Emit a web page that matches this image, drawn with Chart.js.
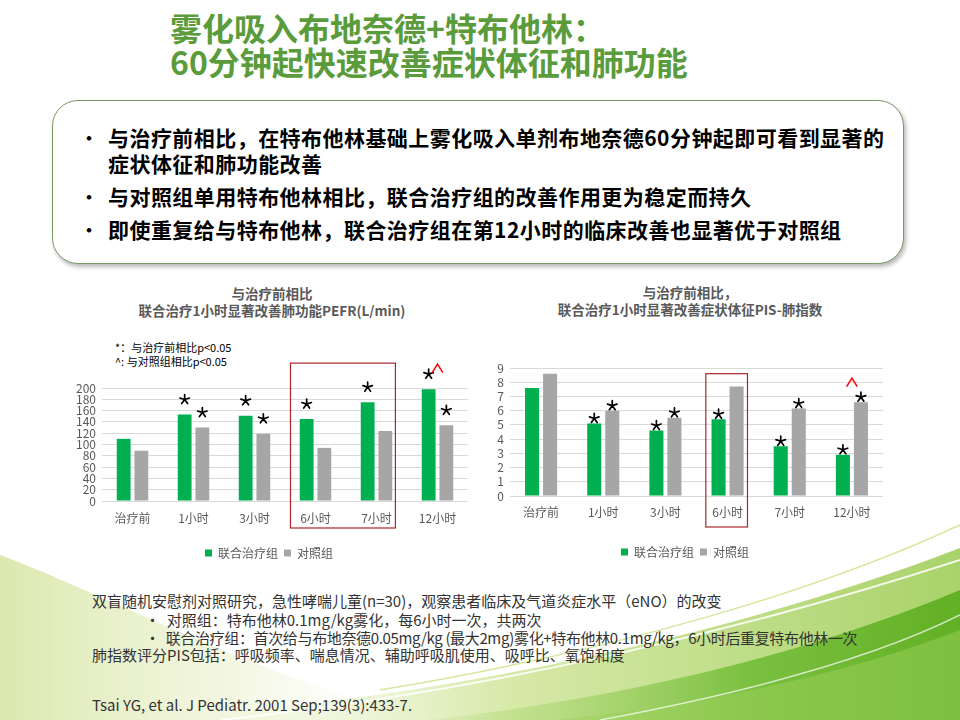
<!DOCTYPE html>
<html>
<head>
<meta charset="utf-8">
<script src="https://cdn.jsdelivr.net/npm/chart.js@4.4.1/dist/chart.umd.min.js"></script>
<style>
  body { margin: 0; width: 960px; height: 720px; overflow: hidden; background: #fff; position: relative;
         font-family: "Noto Sans CJK SC", "Noto Sans", sans-serif; }
  .abs { position: absolute; white-space: nowrap; }
  .title { left: 170px; color: #5a9b3b; font-size: 32px; font-weight: bold; line-height: 34px; }
  .panel { left: 52px; top: 100px; width: 850px; height: 162px; border: 1.6px solid #7a9a66;
           border-radius: 26px; box-shadow: 2px 3px 4px rgba(0,0,0,0.28); background: #fff; }
  .pt { left: 108px; font-size: 21px; font-weight: bold; color: #000; line-height: 26px; letter-spacing: 0.45px; }
  .dot { left: 80px; font-size: 18px; font-weight: bold; color: #000; line-height: 26px; }
  .ct { font-size: 13.5px; font-weight: bold; color: #595959; line-height: 17px; text-align: center; }
  .sig { left: 115px; font-size: 11px; color: #000; line-height: 13px; }
  .note { font-size: 15px; color: #333; line-height: 18px; }
  canvas { position: absolute; }
</style>
</head>
<body>
<svg class="abs" width="960" height="720" style="left:0;top:0">
  <defs>
    <linearGradient id="gLeft" x1="0" y1="0" x2="1" y2="0">
      <stop offset="0" stop-color="#dce8ae"/>
      <stop offset="0.55" stop-color="#eef4d6" stop-opacity="0.7"/>
      <stop offset="1" stop-color="#ffffff" stop-opacity="0"/>
    </linearGradient>
    <linearGradient id="gBand" x1="0" y1="0" x2="1" y2="0">
      <stop offset="0" stop-color="#f2f7e2" stop-opacity="0"/>
      <stop offset="0.45" stop-color="#d7e9a8"/>
      <stop offset="1" stop-color="#a9d36a"/>
    </linearGradient>
    <linearGradient id="gBright" x1="0" y1="0" x2="1" y2="0">
      <stop offset="0" stop-color="#b7dc7e" stop-opacity="0.2"/>
      <stop offset="0.6" stop-color="#7bc040"/>
      <stop offset="1" stop-color="#62b025"/>
    </linearGradient>
  </defs>
  <path d="M0,555 C120,600 250,675 430,720 L0,720 Z" fill="url(#gLeft)"/>
  <path d="M140,720 C430,700 720,640 960,548 L960,720 Z" fill="url(#gBand)"/>
  <path d="M430,720 C650,695 830,645 960,590 L960,720 Z" fill="url(#gBright)"/>
  <path d="M560,720 C740,700 870,665 960,630 L960,720 Z" fill="#9ccf5a" opacity="0.5"/>
  <path d="M220,720 C500,690 760,625 960,560" stroke="#ffffff" stroke-width="2" fill="none" opacity="0.85"/>
  <path d="M600,720 C760,690 880,655 960,615" stroke="#ffffff" stroke-width="1.5" fill="none" opacity="0.7"/>
  <path d="M380,690 C620,650 820,590 960,525" stroke="#d6e79c" stroke-width="1.5" fill="none"/>
</svg>

<div class="abs title" style="top:10px">雾化吸入布地奈德+特布他林：</div>
<div class="abs title" style="top:44px">60分钟起快速改善症状体征和肺功能</div>

<div class="abs panel"></div>
<div class="abs dot" style="top:124px">•</div>
<div class="abs pt" style="top:124px">与治疗前相比，在特布他林基础上雾化吸入单剂布地奈德60分钟起即可看到显著的</div>
<div class="abs pt" style="top:150px">症状体征和肺功能改善</div>
<div class="abs dot" style="top:183px">•</div>
<div class="abs pt" style="top:183px">与对照组单用特布他林相比，联合治疗组的改善作用更为稳定而持久</div>
<div class="abs dot" style="top:216px">•</div>
<div class="abs pt" style="top:216px">即使重复给与特布他林，联合治疗组在第12小时的临床改善也显著优于对照组</div>

<div class="abs ct" style="left:122px;width:300px;top:285px">与治疗前相比<br>联合治疗1小时显著改善肺功能PEFR(L/min)</div>
<div class="abs ct" style="left:540px;width:300px;top:284px">与治疗前相比，<br>联合治疗1小时显著改善症状体征PIS-肺指数</div>
<div class="abs sig" style="top:341px">*：与治疗前相比p&lt;0.05</div>
<div class="abs sig" style="top:355px">^: 与对照组相比p&lt;0.05</div>

<canvas id="pefrChart" style="left:70px;top:340px;width:400px;height:229px"></canvas>
<canvas id="pisChart" style="left:487px;top:340px;width:398px;height:228px"></canvas>

<div class="abs note" style="left:92px;top:592px">双盲随机安慰剂对照研究，急性哮喘儿童(n=30)，观察患者临床及气道炎症水平（eNO）的改变</div>
<div class="abs note" style="left:145px;top:611px">•&nbsp; 对照组：特布他林0.1mg/kg雾化，每6小时一次，共两次</div>
<div class="abs note" style="left:145px;top:629px;letter-spacing:-0.35px">•&nbsp; 联合治疗组：首次给与布地奈德0.05mg/kg (最大2mg)雾化+特布他林0.1mg/kg，6小时后重复特布他林一次</div>
<div class="abs note" style="left:92px;top:646px">肺指数评分PIS包括：呼吸频率、喘息情况、辅助呼吸肌使用、吸呼比、氧饱和度</div>
<div class="abs note" style="left:92px;top:696px">Tsai YG, et al. J Pediatr. 2001 Sep;139(3):433-7.</div>

<script>
// categories and series
const categories = ['治疗前', '1小时', '3小时', '6小时', '7小时', '12小时'];
const seriesNames = ['联合治疗组', '对照组'];

// PEFR (L/min)
const pefrCombo   = [110, 153, 151, 145, 175, 198];
const pefrControl = [89, 130, 119, 94, 124, 134];
const pefrMax = 200;
const pefrStep = 20;

// PIS 肺指数
const pisCombo   = [7.6, 5.1, 4.6, 5.4, 3.5, 2.9];
const pisControl = [8.6, 6.0, 5.5, 7.7, 6.15, 6.6];
const pisMax = 9;
const pisStep = 1;

// significance marks: * vs 治疗前, ^ vs 对照组
const pefrStarCombo   = [0, 1, 1, 1, 1, 1];
const pefrStarControl = [0, 1, 1, 0, 0, 1];
const pefrCaret       = [0, 0, 0, 0, 0, 1];
const pisStarCombo    = [0, 1, 1, 1, 1, 1];
const pisStarControl  = [0, 1, 1, 0, 1, 1];
const pisCaret        = [0, 0, 0, 0, 0, 1];

// highlighted categories (first, last index)
const pefrHighlight = [3, 4];
const pisHighlight  = [3, 3];

const GREEN = '#00b050';
const GRAY = '#a6a6a6';
const TEXT = '#595959';
const FONT = '"Noto Sans CJK SC", "Noto Sans", sans-serif';

function drawStar(ctx, cx, cy) {
  const r = 5;
  ctx.beginPath();
  for (let k = 0; k < 5; k++) {
    const a = -Math.PI / 2 + k * 2 * Math.PI / 5;
    ctx.moveTo(cx, cy);
    ctx.lineTo(cx + r * Math.cos(a), cy + r * Math.sin(a));
  }
  ctx.stroke();
}

const marksPlugin = {
  id: 'marks',
  afterDatasetsDraw(chart, args, opts) {
    const ctx = chart.ctx;
    ctx.save();
    ctx.strokeStyle = '#000';
    ctx.lineWidth = 1.7;
    ctx.lineCap = 'round';
    opts.stars.forEach((flags, di) => {
      const meta = chart.getDatasetMeta(di);
      flags.forEach((f, i) => {
        if (f) drawStar(ctx, meta.data[i].x, meta.data[i].y - opts.starGap);
      });
    });
    ctx.strokeStyle = '#ff0000';
    ctx.lineWidth = 1.5;
    opts.caret.forEach((f, i) => {
      if (!f) return;
      const a = chart.getDatasetMeta(0).data[i];
      const b = chart.getDatasetMeta(1).data[i];
      const cx = (a.x + b.x) / 2;
      const cy = Math.min(a.y, b.y) - opts.caretGap;
      ctx.beginPath();
      ctx.moveTo(cx - 5, cy + 4);
      ctx.lineTo(cx, cy - 4);
      ctx.lineTo(cx + 5, cy + 4);
      ctx.stroke();
    });
    // red frame round the highlighted hours
    const xs = chart.scales.x, ys = chart.scales.y;
    const cw = (xs.right - xs.left) / categories.length;
    const l = xs.getPixelForValue(opts.box.range[0]) - opts.box.padL * cw;
    const r = xs.getPixelForValue(opts.box.range[1]) + opts.box.padR * cw;
    const t = ys.getPixelForValue(opts.box.top);
    const b = chart.chartArea.bottom + opts.box.below;
    ctx.strokeStyle = '#a8262a';
    ctx.lineWidth = 1.2;
    ctx.strokeRect(l, t, r - l, b - t);
    ctx.restore();
  }
};

function makeChart(id, combo, control, max, step, axisW, axisH, tickPad, marks) {
  return new Chart(document.getElementById(id), {
    type: 'bar',
    data: {
      labels: categories,
      datasets: [
        { label: seriesNames[0], data: combo, backgroundColor: GREEN, borderWidth: 0 },
        { label: seriesNames[1], data: control, backgroundColor: GRAY, borderWidth: 0 }
      ]
    },
    options: {
      responsive: false,
      animation: false,
      datasets: { bar: { categoryPercentage: 0.58, barPercentage: 0.78 } },
      layout: { padding: { top: marks.padTop, right: 2, left: 0, bottom: 0 } },
      scales: {
        x: {
          grid: { display: false, drawTicks: false },
          border: { display: false },
          ticks: { color: TEXT, font: { family: FONT, size: 12 }, padding: tickPad },
          afterFit: s => { s.height = axisH; }
        },
        y: {
          min: 0, max: max,
          grid: { color: '#d9d9d9', drawTicks: false },
          border: { display: false },
          ticks: { stepSize: step, autoSkip: false, color: TEXT, font: { family: FONT, size: 12, lineHeight: 1 }, padding: 6 },
          afterFit: s => { s.width = axisW; }
        }
      },
      plugins: {
        legend: {
          position: 'bottom',
          labels: { color: TEXT, font: { family: FONT, size: 12 }, boxWidth: 7, boxHeight: 7, padding: 6 }
        },
        tooltip: { enabled: false },
        marks: marks
      }
    },
    plugins: [marksPlugin]
  });
}

makeChart('pefrChart', pefrCombo, pefrControl, pefrMax, pefrStep, 32, 40, 10, {
  padTop: 48,
  stars: [pefrStarCombo, pefrStarControl], starGap: 15,
  caret: pefrCaret, caretGap: 21,
  box: { range: pefrHighlight, padL: 0.41, padR: 0.31, top: 244, below: 27 }
});

makeChart('pisChart', pisCombo, pisControl, pisMax, pisStep, 23, 44, 9, {
  padTop: 28,
  stars: [pisStarCombo, pisStarControl], starGap: 5,
  caret: pisCaret, caretGap: 20,
  box: { range: pisHighlight, padL: 0.35, padR: 0.32, top: 8.6, below: 31 }
});
</script>
</body>
</html>
